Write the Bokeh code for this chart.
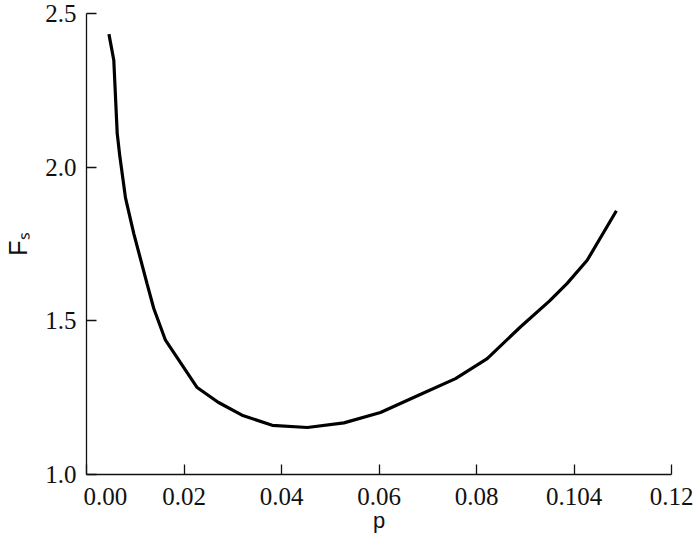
from bokeh.plotting import figure
from bokeh.models import Range1d, FixedTicker
from bokeh.embed import file_html
from bokeh.resources import INLINE

# data
p_vals = [0.0046, 0.0056, 0.0063, 0.0068, 0.0080, 0.0097, 0.0124, 0.0138, 0.0162,
          0.0227, 0.0270, 0.0319, 0.0381, 0.0453, 0.0528, 0.0603, 0.0680, 0.0757,
          0.0822, 0.0890, 0.0950, 0.0986, 0.1027, 0.1087]
fs_vals = [2.433, 2.348, 2.110, 2.040, 1.900, 1.784, 1.622, 1.540, 1.437,
           1.283, 1.235, 1.193, 1.160, 1.153, 1.168, 1.202, 1.257, 1.312,
           1.377, 1.480, 1.565, 1.622, 1.697, 1.858]
x_ticks = [0.0, 0.02, 0.04, 0.06, 0.08, 0.10, 0.12]
x_tick_labels = ["\u00a0" * 6 + "0.00", "0.02", "0.04", "0.06", "0.08", "0.104", "0.12"]
y_ticks = [1.0, 1.5, 2.0, 2.5]
y_tick_labels = ["1.0", "1.5", "2.0", "2.5"]

SERIF = "Liberation Serif"
SANS = "Liberation Sans"

p = figure(width=700, height=542, output_backend="svg", toolbar_location=None,
           x_range=Range1d(0, 0.12), y_range=Range1d(1.0, 2.5),
           min_border_left=86, min_border_right=29, min_border_top=13, min_border_bottom=68)
p.outline_line_color = None
p.xgrid.visible = False
p.ygrid.visible = False
p.background_fill_color = "white"

p.line(p_vals, fs_vals, line_color="black", line_width=3.2)

for ax in (p.xaxis[0], p.yaxis[0]):
    ax.axis_line_color = "#111111"
    ax.axis_line_width = 1.3
    ax.major_tick_in = 10
    ax.major_tick_out = 0
    ax.major_tick_line_color = "#111111"
    ax.major_tick_line_width = 1.3
    ax.minor_tick_line_color = None
    ax.major_label_text_font = SERIF
    ax.major_label_text_font_size = "25px"
    ax.major_label_text_color = "#111111"
    ax.axis_label_text_font = SANS
    ax.axis_label_text_font_style = "normal"
    ax.axis_label_text_color = "#111111"

p.xaxis[0].ticker = FixedTicker(ticks=x_ticks)
p.xaxis[0].major_label_overrides = {t: l for t, l in zip(x_ticks, x_tick_labels)}
p.xaxis[0].major_label_standoff = 8
p.xaxis[0].axis_label = "p"
p.xaxis[0].axis_label_text_font_size = "22px"
p.xaxis[0].axis_label_standoff = -5

p.yaxis[0].ticker = FixedTicker(ticks=y_ticks)
p.yaxis[0].major_label_overrides = {t: l for t, l in zip(y_ticks, y_tick_labels)}
p.yaxis[0].major_label_standoff = 10
p.yaxis[0].axis_label = "F\u209b"
p.yaxis[0].axis_label_text_font_size = "25px"
p.yaxis[0].axis_label_standoff = 10

open("out.html", "w").write(file_html(p, INLINE))
